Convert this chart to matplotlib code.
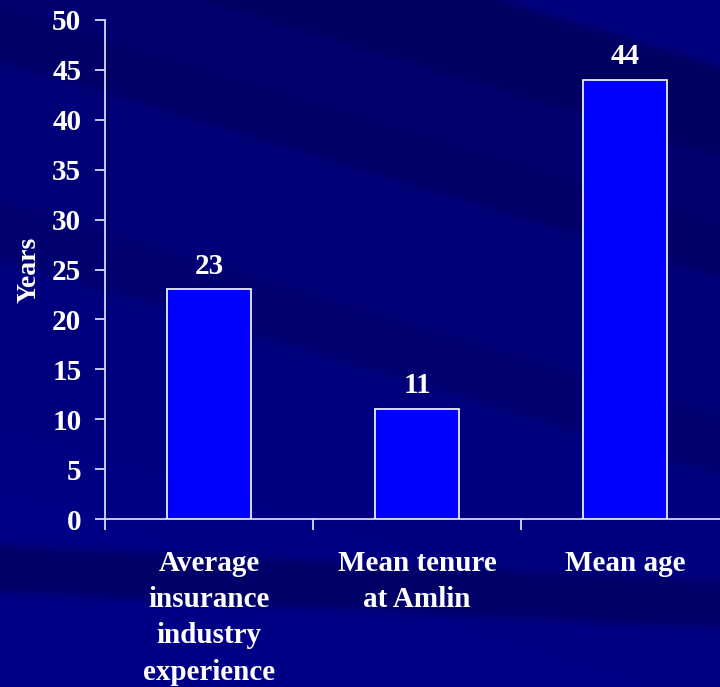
import numpy as np
import matplotlib
matplotlib.use("Agg")
import matplotlib.pyplot as plt

# Staff profile figures
categories = ["Average\ninsurance\nindustry\nexperience", "Mean tenure\nat Amlin", "Mean age"]
years = [23, 11, 44]
y_ticks = [0, 5, 10, 15, 20, 25, 30, 35, 40, 45, 50]

W, H, DPI = 720, 687, 100
fig = plt.figure(figsize=(W / DPI, H / DPI), dpi=DPI)

# Slide-style backdrop: navy with soft diagonal streaks
bg = fig.add_axes([0, 0, 1, 1], zorder=-10)
bg.set_axis_off()
xx, yy = np.meshgrid(np.arange(W), np.arange(H))
s = yy - 0.3 * xx
edges = [-1e9, -150, -60, 10, 60, 200, 260, 420, 480, 1e9]
levels = [0x7e, 0x62, 0x70, 0x66, 0x78, 0x72, 0x7e, 0x83, 0x86]
blue = np.zeros_like(s, dtype=float)
for lo, hi, lv in zip(edges[:-1], edges[1:], levels):
    blue[(s >= lo) & (s < hi)] = lv
# dark shallow band behind the category labels
t = yy - 0.05 * xx
blue[(t >= 545) & (t < 592)] = 0x68
blue[(t >= 592)] = np.maximum(blue[(t >= 592)], 0x84)


def box_blur(a, k):
    ker = np.ones(k) / k
    a = np.apply_along_axis(lambda r: np.convolve(np.pad(r, k, mode="edge"), ker, "same")[k:-k], 1, a)
    a = np.apply_along_axis(lambda c: np.convolve(np.pad(c, k, mode="edge"), ker, "same")[k:-k], 0, a)
    return a


blue = box_blur(blue, 11)
img = np.zeros((H, W, 3))
img[..., 2] = blue / 255.0
bg.imshow(img, extent=[0, W, H, 0], aspect="auto", interpolation="bilinear")
bg.set_xlim(0, W)
bg.set_ylim(H, 0)

plt.rcParams["font.family"] = ["Liberation Serif", "DejaVu Serif"]
fg = "white"
axis_col = "#d8d8f0"
fs = 21

ax = fig.add_axes([105 / W, (H - 519) / H, 624 / W, 499 / H])
ax.patch.set_alpha(0)

x = np.arange(len(categories))
bars = ax.bar(x, years, width=0.4, color="#0000ff", edgecolor="white", linewidth=1.2, zorder=3)

for xi, v in zip(x, years):
    ax.annotate(str(v), (xi, v), xytext=(0, 7), textcoords="offset points",
                ha="center", va="bottom", color=fg, fontsize=fs, fontweight="bold")

ax.set_xlim(-0.5, len(categories) - 0.5)
ax.set_ylim(0, 50)
ax.set_yticks(y_ticks)
ax.set_yticklabels([str(t) for t in y_ticks])
ax.set_xticks(x)
ax.set_xticklabels(categories, linespacing=1.45)
ax.set_xticks(np.arange(len(categories) + 1) - 0.5, minor=True)

ax.tick_params(axis="y", direction="out", length=7, width=1.3, color=axis_col, pad=10,
               labelsize=fs, labelcolor=fg)
ax.tick_params(axis="x", which="major", length=0, pad=22, labelsize=fs, labelcolor=fg)
ax.tick_params(axis="x", which="minor", direction="out", length=8, width=1.3, color=axis_col)
for lbl in ax.get_xticklabels() + ax.get_yticklabels():
    lbl.set_fontweight("bold")
for lbl in ax.get_xticklabels():
    lbl.set_verticalalignment("top")

for side in ("top", "right"):
    ax.spines[side].set_visible(False)
for side in ("left", "bottom"):
    ax.spines[side].set_color(axis_col)
    ax.spines[side].set_linewidth(1.3)

ax.set_ylabel("Years", color=fg, fontsize=20, fontweight="bold", labelpad=8)

fig.savefig("out.png", dpi=DPI)
